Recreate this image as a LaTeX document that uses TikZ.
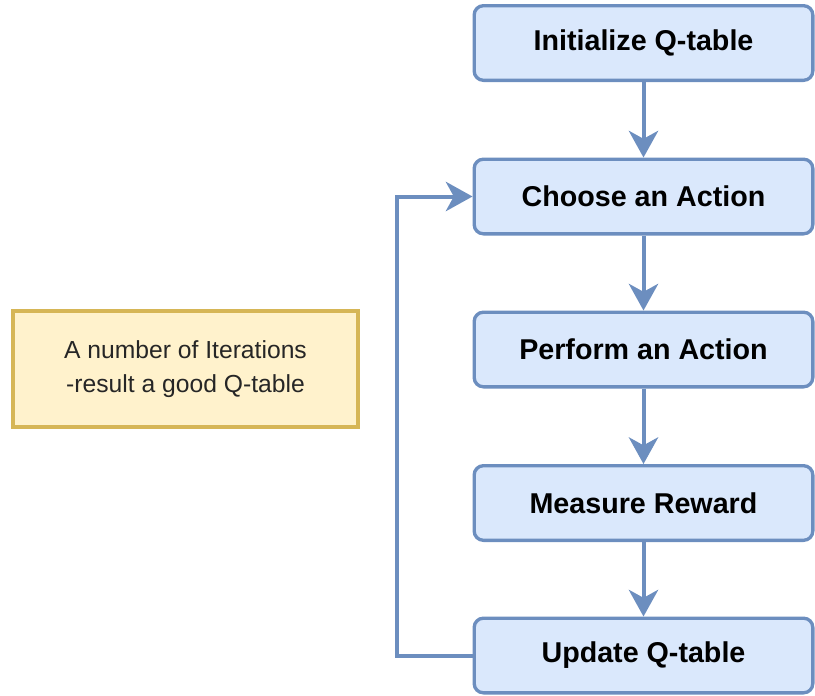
\documentclass[tikz,border=0pt]{standalone}
\usepackage{fontspec}
\setmainfont{Liberation Sans}
\usetikzlibrary{arrows.meta}
\definecolor{stepfill}{HTML}{DAE8FC}
\definecolor{stepline}{HTML}{6C8EBF}
\definecolor{notefill}{HTML}{FFF2CC}
\definecolor{noteline}{HTML}{D6B656}
\tikzset{
  stepbox/.style={draw=stepline, fill=stepfill, line width=2.5pt, rounded corners=7pt,
    minimum width=254pt, minimum height=56pt, font=\fontsize{21.5}{24}\selectfont\bfseries},
  notebox/.style={draw=noteline, fill=notefill, line width=2.8pt,
    minimum width=259pt, minimum height=87pt, align=center, text=black!85,
    font=\fontsize{18.5}{25}\selectfont},
  flow/.style={draw=stepline, line width=3pt,
    -{Stealth[length=20pt, width=22pt, inset=6pt]}}
}
\begin{document}
\begin{tikzpicture}[x=0.75pt, y=-0.75pt]
\useasboundingbox (0,0) rectangle (815,696);
\node[stepbox] (init) at (643.5,43) {Initialize Q-table};
\node[stepbox] (choose) at (643.5,196.5) {Choose an Action};
\node[stepbox] (perform) at (643.5,349.5) {Perform an Action};
\node[stepbox] (reward) at (643.5,503) {Measure Reward};
\node[stepbox] (update) at (643.5,655.5) {Update Q-table};
\node[notebox] (iter) at (185.5,369) {A number of Iterations\\-result a good Q-table};
\coordinate (loop) at (397,655.5);
\draw[flow] (init) -- (choose);
\draw[flow] (choose) -- (perform);
\draw[flow] (perform) -- (reward);
\draw[flow] (reward) -- (update);
\draw[flow] (update.west) -- (loop) |- (choose.west);
\end{tikzpicture}
\end{document}
